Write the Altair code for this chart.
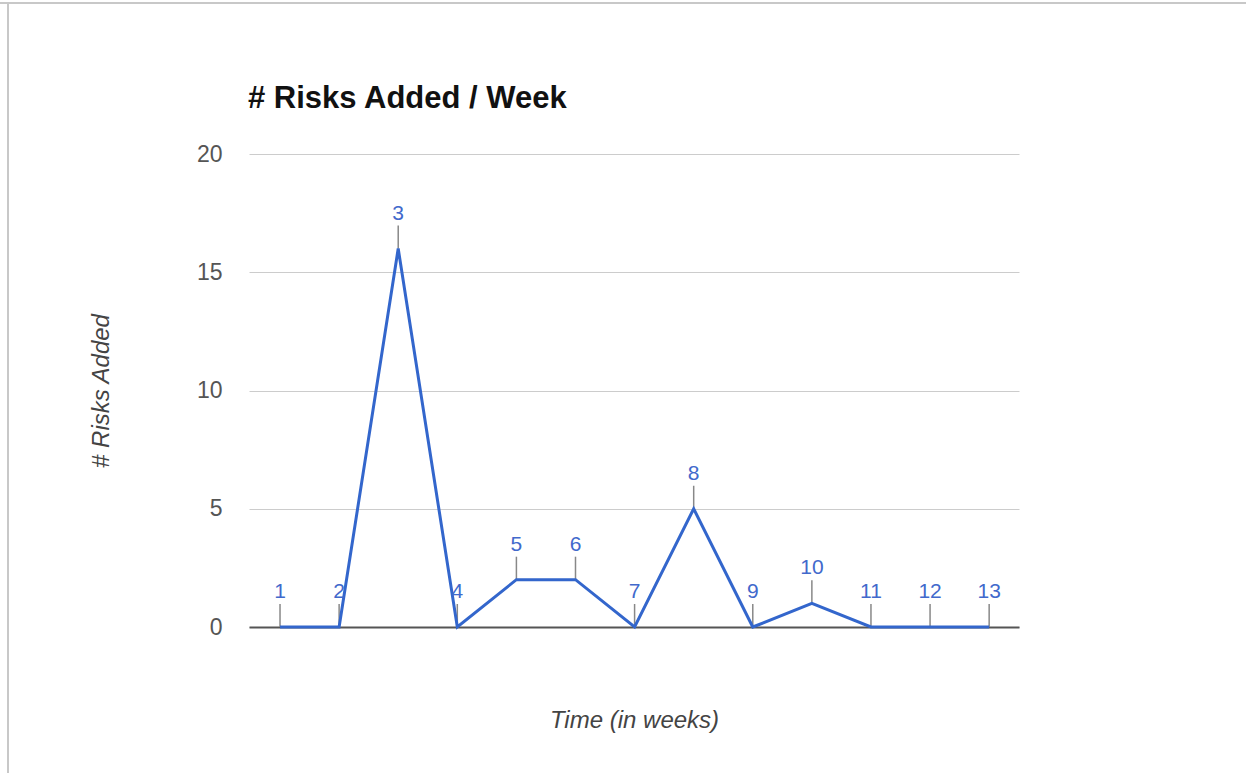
import altair as alt
import pandas as pd

weeks = [1, 2, 3, 4, 5, 6, 7, 8, 9, 10, 11, 12, 13]
risks_added = [0, 0, 16, 0, 2, 2, 0, 5, 0, 1, 0, 0, 0]
y_ticks = [0, 5, 10, 15, 20]
chart_title = ["# Risks Added / Week"]

df = pd.DataFrame({"week": weeks, "risks": risks_added, "label": [str(w) for w in weeks]})

W, H = 770, 473
PAD_L, PAD_T = 249, 154
FONT = "Liberation Sans"
BLUE = "#3366cc"

xscale = alt.Scale(domain=[0.475, 13.505], nice=False, zero=False)
yscale = alt.Scale(domain=[0, 20], nice=False)

base = alt.Chart(df)

line = base.mark_line(color=BLUE, strokeWidth=3).encode(
    x=alt.X("week:Q", scale=xscale,
            axis=alt.Axis(title="Time (in weeks)", labels=False, ticks=False, grid=False,
                          domain=True, domainColor="#555555", domainWidth=2,
                          titleFont=FONT, titleFontSize=24, titleFontStyle="italic",
                          titleFontWeight="normal", titleColor="#444444",
                          titleX=W / 2, titleY=93, titleBaseline="middle", titleAlign="center")),
    y=alt.Y("risks:Q", scale=yscale,
            axis=alt.Axis(title="# Risks Added", values=y_ticks, grid=True, gridColor="#cccccc",
                          gridWidth=1, domain=False, ticks=False, labelPadding=27,
                          labelFont=FONT, labelFontSize=23, labelColor="#555555",
                          titleFont=FONT, titleFontSize=24, titleFontStyle="italic",
                          titleFontWeight="normal", titleColor="#444444",
                          titleX=-148, titleY=H / 2, titleAngle=-90,
                          titleBaseline="middle", titleAlign="center")),
)

stems = base.mark_rule(color="#888888", strokeWidth=1.5, y2Offset=-23).encode(
    x=alt.X("week:Q", scale=xscale),
    y=alt.Y("risks:Q", scale=yscale),
    y2="risks:Q",
)

labels = base.mark_text(color="#4169cc", font=FONT, fontSize=21, baseline="alphabetic",
                        align="center", dy=-29).encode(
    x=alt.X("week:Q", scale=xscale),
    y=alt.Y("risks:Q", scale=yscale),
    text="label:N",
)

title = alt.Chart(pd.DataFrame({"t": chart_title})).mark_text(
    font=FONT, fontSize=31, fontWeight="bold", color="#111111",
    align="left", baseline="alphabetic"
).encode(x=alt.value(-1), y=alt.value(108 - PAD_T), text="t:N")

frame_top = alt.Chart(pd.DataFrame({"a": [0]})).mark_rule(color="#c8c8c8", strokeWidth=2).encode(
    x=alt.value(-PAD_L), x2=alt.value(1246 - PAD_L), y=alt.value(3 - PAD_T)
)
frame_left = alt.Chart(pd.DataFrame({"a": [0]})).mark_rule(color="#c8c8c8", strokeWidth=2).encode(
    x=alt.value(8 - PAD_L), y=alt.value(3 - PAD_T), y2=alt.value(773 - PAD_T)
)

chart = alt.layer(frame_top, frame_left, title, stems, line, labels).properties(
    width=W,
    height=H,
    padding={"left": PAD_L, "top": PAD_T, "right": 1246 - PAD_L - W, "bottom": 773 - PAD_T - H},
    autosize=alt.AutoSizeParams(type="none"),
).configure(background="white").configure_view(strokeWidth=0, strokeOpacity=0)

chart.save("out.html", embed_options={"renderer": "svg", "actions": False})
